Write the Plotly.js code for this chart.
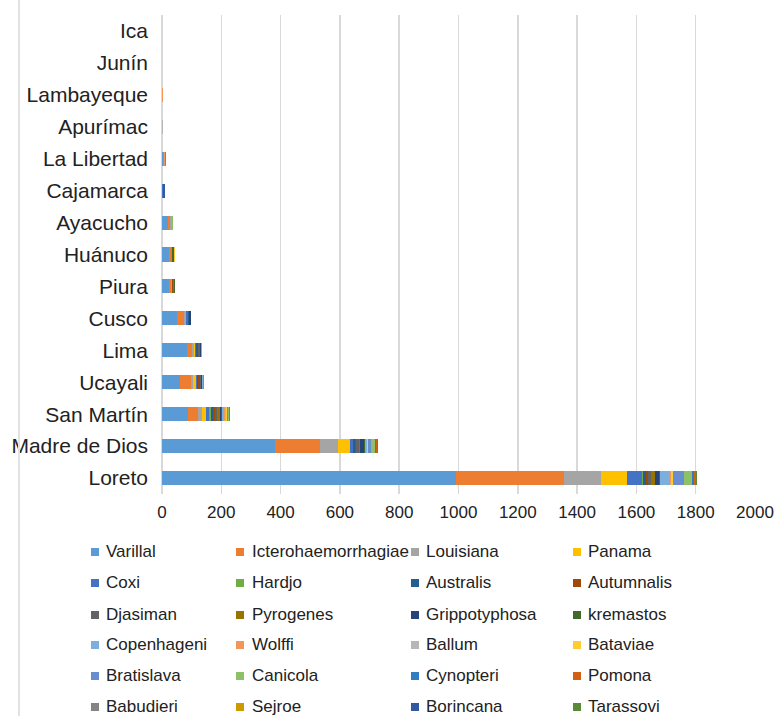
<!DOCTYPE html>
<html><head><meta charset="utf-8">
<script src="https://cdn.plot.ly/plotly-3.0.1.min.js"></script>
<style>html,body{margin:0;padding:0;background:#fff}#chart{width:783px;height:716px}</style>
</head><body><div id="chart"></div>
<script>
// Regions, bottom to top
var regions = ["Loreto","Madre de Dios","San Martín","Ucayali","Lima","Cusco","Piura","Huánuco","Ayacucho","Cajamarca","La Libertad","Apurímac","Lambayeque","Junín","Ica"];

var seriesNames = ["Varillal","Icterohaemorrhagiae","Louisiana","Panama","Coxi","Hardjo","Australis","Autumnalis","Djasiman","Pyrogenes","Grippotyphosa","kremastos","Copenhageni","Wolffi","Ballum","Bataviae","Bratislava","Canicola","Cynopteri","Pomona","Babudieri","Sejroe","Borincana","Tarassovi"];

var seriesColors = ["#5B9BD5","#ED7D31","#A5A5A5","#FFC000","#4472C4","#70AD47","#255E91","#9E480E","#636363","#997300","#264478","#43682B","#7CAFDD","#F1975A","#B7B7B7","#FFCD33","#698ED0","#8CC168","#327DC2","#D26012","#848484","#CC9A00","#335AA1","#5A8A39"];

var Varillal            = [990,382,86,60,85,52,24,22,20,0,3,0,0,0,0];
var Icterohaemorrhagiae = [365,150,35,37,17,22,7,7,6,0,4,0,0,0,0];
var Louisiana           = [125,60,15,8,5,6,3,1,3,0,0,0,0,0,0];
var Panama              = [88,43,12,8,3,2,0,0,0,0,0,0,0,0,0];
var Coxi                = [50,8,12,6,6,6,0,0,0,4,0,0,0,0,0];
var Hardjo              = [3,2,4,0,0,0,0,4,2,0,0,0,0,0,0];
var Australis           = [10,5,8,4,4,3,0,0,0,0,0,0,0,0,0];
var Autumnalis          = [8,5,6,5,3,0,4,0,0,0,0,0,0,0,0];
var Djasiman            = [9,8,8,3,4,0,0,0,0,0,0,0,0,0,0];
var Pyrogenes           = [15,5,8,0,0,0,3,0,0,0,0,0,0,0,0];
var Grippotyphosa       = [14,14,6,4,5,8,0,0,0,1,0,0,0,0,0];
var kremastos           = [4,4,4,0,0,0,4,5,0,0,0,0,0,0,0];
var Copenhageni         = [32,4,6,4,3,0,0,0,0,0,0,0,0,0,0];
var Wolffi              = [2,0,4,0,0,0,0,0,0,0,4,0,5,0,0];
var Ballum              = [2,2,3,0,0,0,0,0,0,0,0,4,0,0,0];
var Bataviae            = [7,4,2,0,0,0,0,4,0,0,0,0,0,0,0];
var Bratislava          = [38,10,4,1,0,0,0,0,0,0,0,0,0,0,0];
var Canicola            = [27,14,2,0,0,0,0,0,6,0,0,0,0,0,0];
var Cynopteri           = [5,2,1,0,0,0,0,0,0,0,0,0,0,0,0];
var Pomona              = [8,3,3,0,0,0,0,0,0,0,0,0,0,0,0];
var Babudieri           = [0,0,0,0,0,0,0,0,0,0,2,0,0,0,0];
var Sejroe              = [0,0,0,0,0,0,0,0,0,0,0,0,0,0,0];
var Borincana           = [0,0,0,0,0,0,0,0,0,4,0,0,0,0,0];
var Tarassovi           = [4,2,0,0,0,0,0,0,0,0,0,0,0,0,0];

var seriesValues = [Varillal,Icterohaemorrhagiae,Louisiana,Panama,Coxi,Hardjo,Australis,Autumnalis,Djasiman,Pyrogenes,Grippotyphosa,kremastos,Copenhageni,Wolffi,Ballum,Bataviae,Bratislava,Canicola,Cynopteri,Pomona,Babudieri,Sejroe,Borincana,Tarassovi];

var xTicks = [0,200,400,600,800,1000,1200,1400,1600,1800,2000];

var W = 783, H = 716, ML = 162, MR = 28, MT = 15, MB = 222;
var PW = W - ML - MR, PH = H - MT - MB;
function px(x){ return (x - ML) / PW; }
function py(y){ return 1 - (y - MT) / PH; }

var traces = seriesNames.map(function(n, i){
  return {type:'bar', orientation:'h', name:n, y:regions, x:seriesValues[i],
    marker:{color:seriesColors[i], line:{width:0}}, showlegend:false, hoverinfo:'x+name'};
});

// custom legend: 4 columns x 6 rows
var colMarker = [95, 240, 415, 577];
var colText = [104, 250, 424, 586];
var rowY = [551, 582, 614, 644, 675, 706];
var shapes = [], annotations = [];
seriesNames.forEach(function(n, i){
  var c = i % 4, r = Math.floor(i / 4);
  var cx = colMarker[c], cy = rowY[r] + 1;
  shapes.push({type:'rect', xref:'paper', yref:'paper', x0:px(cx-4), x1:px(cx+4), y0:py(cy+4), y1:py(cy-4),
    fillcolor:seriesColors[i], line:{width:0}});
  annotations.push({xref:'paper', yref:'paper', x:px(colText[c]), y:py(rowY[r]), xanchor:'left', yanchor:'middle',
    text:n, showarrow:false, font:{family:'Liberation Sans, Arial, sans-serif', size:17, color:'#222'}});
});
shapes.push({type:'line', xref:'paper', yref:'paper', x0:px(19), x1:px(19), y0:py(716), y1:py(0), line:{color:'#e2e2e2', width:2}});

var layout = {
  width:W, height:H, barmode:'stack', bargap:0.56,
  margin:{l:ML, r:MR, t:MT, b:MB, pad:0},
  paper_bgcolor:'#fff', plot_bgcolor:'#fff',
  font:{family:'Liberation Sans, Arial, sans-serif', color:'#222'},
  xaxis:{range:[0,2000], tickvals:xTicks, ticktext:xTicks.map(String), showgrid:true, gridcolor:'#d9d9d9', gridwidth:1.5,
    zeroline:true, zerolinecolor:'#d9d9d9', zerolinewidth:1.5, showline:false, ticks:'',
    tickfont:{size:17, color:'#222'}, ticklabelstandoff:6, fixedrange:true},
  yaxis:{type:'category', categoryorder:'array', categoryarray:regions, showgrid:false, zeroline:false, showline:false,
    ticks:'', tickfont:{size:21, color:'#222'}, ticklabelstandoff:13, fixedrange:true},
  shapes:shapes, annotations:annotations, showlegend:false
};
Plotly.newPlot('chart', traces, layout, {displayModeBar:false, staticPlot:true});
</script></body></html>
